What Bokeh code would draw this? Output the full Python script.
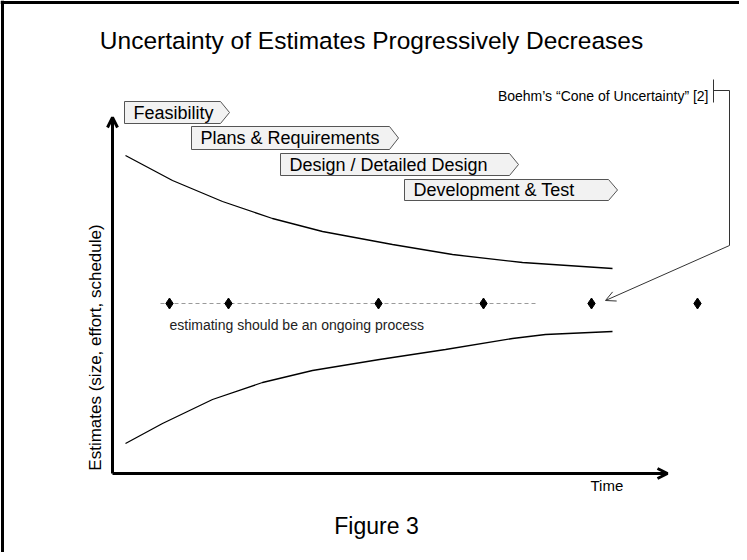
from bokeh.plotting import figure
from bokeh.models import Range1d, Span, Arrow, OpenHead
from bokeh.core.properties import value
from bokeh.embed import file_html
from bokeh.resources import INLINE

# ---------------- data ----------------
title_text = "Uncertainty of Estimates Progressively Decreases"
caption_text = "Figure 3"
x_label = "Time"
y_label = "Estimates (size, effort, schedule)"
note_text = "estimating should be an ongoing process"
ref_text = "Boehm\u2019s \u201cCone of Uncertainty\u201d [2]"

phases = ["Feasibility", "Plans & Requirements", "Design / Detailed Design", "Development & Test"]
phase_start = [12, 79, 168, 292]
phase_end = [108, 277, 397, 496]
phase_top = [372, 347, 320, 294]
phase_bottom = [350, 324, 298, 273]

upper_t = [13, 60, 110, 160, 210, 280, 340, 410, 500]
upper_v = [318, 293, 272, 255, 242, 229, 219, 211, 205]
lower_t = [13, 50, 100, 150, 200, 267, 333, 400, 433, 500]
lower_v = [30, 50, 74, 91, 103, 114, 124, 135, 139, 142]

estimate_t = [57, 116, 266, 371, 479, 585]
estimate_v = [170, 170, 170, 170, 170, 170]
dash_t = [48, 425]
dash_v = [170, 170]

bracket_x = [601, 601]
bracket_y = [394, 371]
leader_x = [601, 617, 617]
leader_y = [383, 383, 228]
arrow_tip = (493, 173)

FONT = value("Liberation Sans")

p = figure(width=739, height=552, output_backend="svg", toolbar_location=None,
           x_range=Range1d(-112, 627), y_range=Range1d(-79, 473),
           x_axis_location=None, y_axis_location=None, min_border=0,
           background_fill_color="white", border_fill_color="white")
p.grid.visible = False
p.outline_line_color = None

# page frame (top and left edges visible)
p.add_layout(Span(location=-110, dimension="height", line_color="black", line_width=3))
p.add_layout(Span(location=471, dimension="width", line_color="black", line_width=3))

# title & caption
p.text(x=[259], y=[433], text=[title_text], text_font=FONT, text_font_size="24.5px",
       text_align="center", text_baseline="middle", text_color="black")
p.text(x=[264], y=[-52], text=[caption_text], text_font=FONT, text_font_size="23px",
       text_align="center", text_baseline="middle", text_color="black")

# axes with arrows
p.add_layout(Arrow(end=OpenHead(size=10, line_width=3, line_color="black"),
                   x_start=0, y_start=0, x_end=0, y_end=356,
                   line_width=3, line_color="black"))
p.add_layout(Arrow(end=OpenHead(size=10, line_width=3, line_color="black"),
                   x_start=0, y_start=0, x_end=555, y_end=0,
                   line_width=3, line_color="black"))
p.text(x=[478], y=[-12], text=[x_label], text_font=FONT, text_font_size="15px",
       text_align="left", text_baseline="middle", text_color="black")
p.text(x=[-17], y=[126], text=[y_label], text_font=FONT, text_font_size="17px",
       text_align="center", text_baseline="middle", angle=1.5708, text_color="black")

# phase arrows
tip = 9
xs, ys, lx, ly = [], [], [], []
for s, e, t, b in zip(phase_start, phase_end, phase_top, phase_bottom):
    xs.append([s, e, e + tip, e, s])
    ys.append([t, t, (t + b) / 2, b, b])
    lx.append(s + 9)
    ly.append((t + b) / 2)
p.patches(xs=xs, ys=ys, fill_color="#f2f2f2", line_color="#555555", line_width=1)
p.text(x=lx, y=ly, text=phases, text_font=FONT, text_font_size="18px",
       text_align="left", text_baseline="middle", text_color="black")

# cone curves
p.line(upper_t, upper_v, line_color="black", line_width=1.3)
p.line(lower_t, lower_v, line_color="black", line_width=1.3)

# ongoing estimates
p.line(dash_t, dash_v, line_color="#9a9a9a", line_width=1, line_dash="4 3")
p.scatter(estimate_t, estimate_v, marker="diamond", size=11, fill_color="black", line_color="black")
p.text(x=[57], y=[149], text=[note_text], text_font=FONT, text_font_size="14px",
       text_align="left", text_baseline="middle", text_color="#222222")

# reference annotation
p.text(x=[596], y=[378], text=[ref_text], text_font=FONT, text_font_size="14px",
       text_align="right", text_baseline="middle", text_color="black")
p.line(bracket_x, bracket_y, line_color="#333333", line_width=1)
p.line(leader_x, leader_y, line_color="#333333", line_width=1)
p.add_layout(Arrow(end=OpenHead(size=10, line_width=1, line_color="#333333"),
                   x_start=leader_x[-1], y_start=leader_y[-1],
                   x_end=arrow_tip[0], y_end=arrow_tip[1],
                   line_width=1, line_color="#333333"))

open("out.html", "w").write(file_html(p, INLINE))
